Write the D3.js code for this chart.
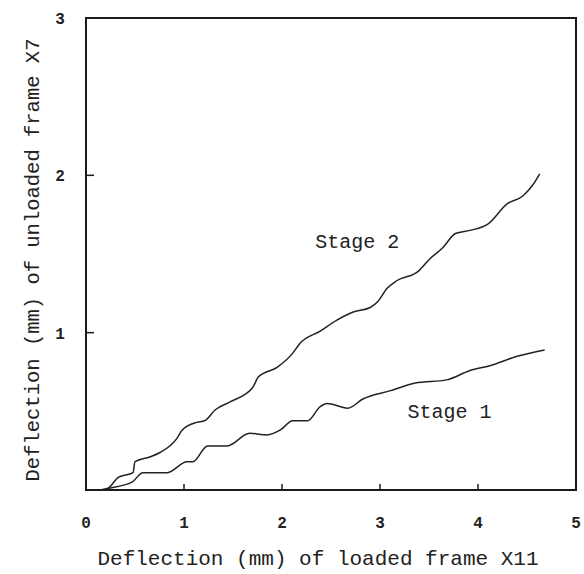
<!DOCTYPE html>
<html>
<head>
<meta charset="utf-8">
<script src="https://cdn.jsdelivr.net/npm/d3@7"></script>
<style>
  body { margin: 0; background: #fff; }
  text { font-family: "Liberation Mono", "DejaVu Sans Mono", monospace; fill: #222; }
</style>
</head>
<body>
<div id="chart"></div>
<script>
// DATA
var stage2X = [0.14, 0.22, 0.33, 0.48, 0.50, 0.65, 0.76, 0.93, 0.98, 1.13, 1.21, 1.32, 1.47, 1.70, 1.76, 1.95, 2.11, 2.18, 2.39, 2.56, 2.72, 2.90, 2.98, 3.07, 3.17, 3.39, 3.51, 3.64, 3.77, 3.92, 4.10, 4.30, 4.46, 4.56, 4.63];
var stage2Y = [0.00, 0.01, 0.08, 0.11, 0.18, 0.21, 0.24, 0.33, 0.38, 0.43, 0.44, 0.51, 0.56, 0.65, 0.72, 0.78, 0.87, 0.93, 1.01, 1.08, 1.13, 1.16, 1.20, 1.28, 1.33, 1.39, 1.47, 1.54, 1.63, 1.65, 1.69, 1.82, 1.87, 1.94, 2.01];
var stage1X = [0.14, 0.22, 0.47, 0.58, 0.83, 1.03, 1.09, 1.24, 1.44, 1.67, 1.85, 1.98, 2.11, 2.26, 2.39, 2.46, 2.67, 2.83, 3.10, 3.36, 3.68, 3.92, 4.12, 4.40, 4.68];
var stage1Y = [0.00, 0.01, 0.05, 0.11, 0.11, 0.18, 0.18, 0.28, 0.28, 0.36, 0.35, 0.38, 0.44, 0.44, 0.53, 0.55, 0.52, 0.58, 0.63, 0.68, 0.70, 0.76, 0.79, 0.85, 0.89];
var xTicks = [0, 1, 2, 3, 4, 5];
var yTicks = [1, 2, 3];
var curveLabels = [
  { text: "Stage 2", x: 2.34, y: 1.54 },
  { text: "Stage 1", x: 3.28, y: 0.46 }
];
var xTitle = "Deflection (mm) of loaded frame X11";
var yTitle = "Deflection (mm) of unloaded frame X7";

// DRAW
var width = 584, height = 574;
var svg = d3.select("#chart").append("svg")
  .attr("width", width)
  .attr("height", height);

var x = d3.scaleLinear().domain([0, 5]).range([86, 576]);
var y = d3.scaleLinear().domain([0, 3]).range([490, 18]);

// frame
svg.append("rect")
  .attr("x", x(0))
  .attr("y", y(3))
  .attr("width", x(5) - x(0))
  .attr("height", y(0) - y(3))
  .attr("fill", "none")
  .attr("stroke", "#1a1a1a")
  .attr("stroke-width", 2);

// inward ticks
svg.selectAll(".xtick")
  .data(xTicks.filter(function (d) { return d > 0 && d < 5; }))
  .enter().append("line")
  .attr("x1", function (d) { return x(d); })
  .attr("x2", function (d) { return x(d); })
  .attr("y1", y(0))
  .attr("y2", y(0) - 6)
  .attr("stroke", "#1a1a1a")
  .attr("stroke-width", 1.5);

svg.selectAll(".ytick")
  .data(yTicks.filter(function (d) { return d < 3; }))
  .enter().append("line")
  .attr("x1", x(0))
  .attr("x2", x(0) + 8)
  .attr("y1", function (d) { return y(d); })
  .attr("y2", function (d) { return y(d); })
  .attr("stroke", "#1a1a1a")
  .attr("stroke-width", 1.5);

// tick labels
svg.selectAll(".xlab")
  .data(xTicks)
  .enter().append("text")
  .attr("x", function (d) { return x(d); })
  .attr("y", 528)
  .attr("text-anchor", "middle")
  .style("font-size", "16px")
  .style("font-weight", "bold")
  .text(function (d) { return d; });

svg.selectAll(".ylab")
  .data(yTicks)
  .enter().append("text")
  .attr("x", 60)
  .attr("y", function (d) { return y(d) + 6; })
  .attr("text-anchor", "middle")
  .style("font-size", "16px")
  .style("font-weight", "bold")
  .text(function (d) { return d; });

// axis titles
svg.append("text")
  .attr("x", (x(0) + x(5)) / 2 - 13)
  .attr("y", 565)
  .attr("text-anchor", "middle")
  .style("font-size", "21px")
  .text(xTitle);

svg.append("text")
  .attr("transform", "translate(39," + ((y(0) + y(3)) / 2 + 6) + ") rotate(-90)")
  .attr("text-anchor", "middle")
  .style("font-size", "20.5px")
  .text(yTitle);

// curves
var line = d3.line()
  .x(function (d) { return x(d[0]); })
  .y(function (d) { return y(d[1]); })
  .curve(d3.curveMonotoneX);

var series = [d3.zip(stage2X, stage2Y), d3.zip(stage1X, stage1Y)];
svg.selectAll(".curve")
  .data(series)
  .enter().append("path")
  .attr("d", line)
  .attr("fill", "none")
  .attr("stroke", "#222")
  .attr("stroke-width", 1.5);

// baseline lead-in along the axis
svg.append("line")
  .attr("x1", x(0))
  .attr("x2", x(0.14))
  .attr("y1", y(0))
  .attr("y2", y(0))
  .attr("stroke", "#1a1a1a")
  .attr("stroke-width", 2);

svg.selectAll(".clab")
  .data(curveLabels)
  .enter().append("text")
  .attr("x", function (d) { return x(d.x); })
  .attr("y", function (d) { return y(d.y); })
  .style("font-size", "20px")
  .text(function (d) { return d.text; });
</script>
</body>
</html>
